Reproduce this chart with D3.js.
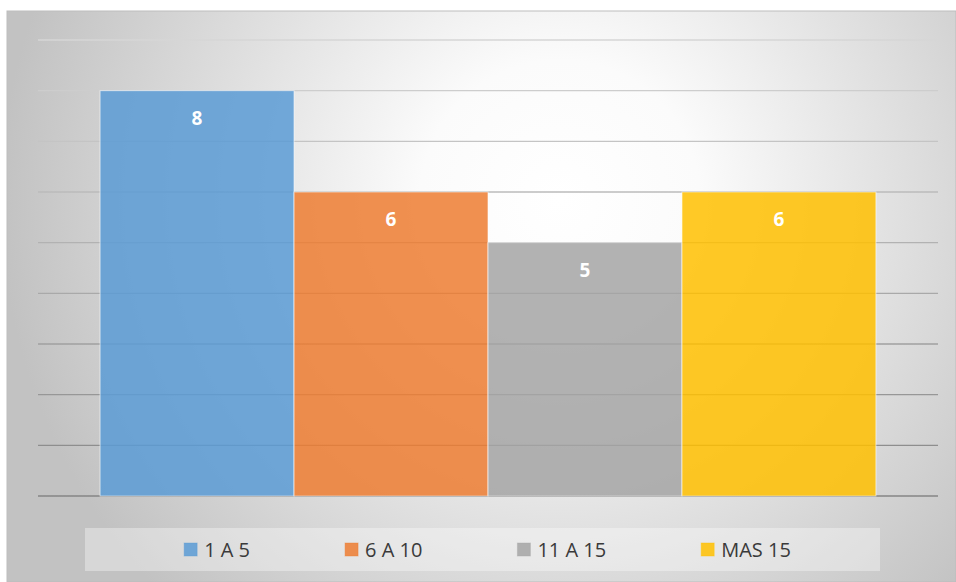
<!DOCTYPE html>
<html lang="es">
<head>
<meta charset="UTF-8" />
<title>Bar chart</title>
<style>
  body { margin: 0; background: #fff; }
  svg { display: block; }
</style>
</head>
<body>
<div id="chart"></div>
<script src="https://d3js.org/d3.v7.min.js"></script>
<script>
const width = 956;
const height = 582;

// data
const categories = ["1 A 5", "6 A 10", "11 A 15", "MAS 15"];
const values = [8, 6, 5, 6];
const colors = ["#5B9BD5", "#ED7D31", "#A5A5A5", "#FFC000"];
const yTicks = [0, 1, 2, 3, 4, 5, 6, 7, 8, 9];

const plot = { left: 38, right: 938, top: 40, bottom: 496 };

const svg = d3.select("#chart").append("svg")
  .attr("width", width)
  .attr("height", height);

const defs = svg.append("defs");
const bg = defs.append("radialGradient")
  .attr("id", "bg")
  .attr("gradientUnits", "userSpaceOnUse")
  .attr("cx", 560).attr("cy", 200).attr("r", 560);
bg.append("stop").attr("offset", "0%").attr("stop-color", "#ffffff");
bg.append("stop").attr("offset", "25%").attr("stop-color", "#fbfbfb");
bg.append("stop").attr("offset", "100%").attr("stop-color", "#c2c2c2");

const gridGrad = defs.append("linearGradient")
  .attr("id", "grid")
  .attr("gradientUnits", "userSpaceOnUse")
  .attr("x1", 0).attr("y1", plot.top).attr("x2", 0).attr("y2", plot.bottom);
gridGrad.append("stop").attr("offset", "0%").attr("stop-color", "#d6d6d6");
gridGrad.append("stop").attr("offset", "100%").attr("stop-color", "#858585");

// chart area
svg.append("rect")
  .attr("x", 7).attr("y", 11)
  .attr("width", width - 7).attr("height", height - 11)
  .attr("fill", "url(#bg)")
  .attr("stroke", "#bdbdbd")
  .attr("stroke-width", 1);

const y = d3.scaleLinear()
  .domain([0, 9])
  .range([plot.bottom, plot.top]);

const x0 = d3.scaleBand()
  .domain(["all"])
  .range([plot.left, plot.right])
  .paddingInner(0)
  .paddingOuter(0.08);

const x1 = d3.scaleBand()
  .domain(categories)
  .range([0, x0.bandwidth()])
  .padding(0);

// gridlines
svg.append("g")
  .selectAll("line")
  .data(yTicks)
  .join("line")
  .attr("x1", plot.left)
  .attr("x2", plot.right)
  .attr("y1", d => y(d))
  .attr("y2", d => y(d))
  .attr("stroke", "url(#grid)")
  .attr("stroke-width", 1.3);

// bars
const bars = svg.append("g")
  .attr("transform", `translate(${x0("all")},0)`);

bars.selectAll("rect")
  .data(values)
  .join("rect")
  .attr("x", (d, i) => x1(categories[i]))
  .attr("y", d => y(d))
  .attr("width", x1.bandwidth())
  .attr("height", d => y(0) - y(d))
  .attr("fill", (d, i) => colors[i])
  .attr("fill-opacity", 0.85)
  .attr("stroke", "#ffffff")
  .attr("stroke-opacity", 0.6)
  .attr("stroke-width", 1);

bars.selectAll("text")
  .data(values)
  .join("text")
  .attr("x", (d, i) => x1(categories[i]) + x1.bandwidth() / 2)
  .attr("y", d => y(d) + 34)
  .attr("text-anchor", "middle")
  .attr("font-family", "'Open Sans', sans-serif")
  .attr("font-weight", 700)
  .attr("font-size", 19)
  .attr("fill", "#ffffff")
  .text(d => d);

// legend
const legendBox = { x: 85, y: 528, w: 795, h: 43 };
svg.append("rect")
  .attr("x", legendBox.x).attr("y", legendBox.y)
  .attr("width", legendBox.w).attr("height", legendBox.h)
  .attr("fill", "#ffffff")
  .attr("fill-opacity", 0.35);

const legend = svg.append("g");
const items = legend.selectAll("g")
  .data(categories)
  .join("g");

items.append("rect")
  .attr("width", 13).attr("height", 13)
  .attr("y", legendBox.y + 15)
  .attr("fill", (d, i) => colors[i])
  .attr("fill-opacity", 0.85)
  .attr("stroke", (d, i) => colors[i])
  .attr("stroke-opacity", 0.4);

items.append("text")
  .attr("x", 20)
  .attr("y", legendBox.y + 28.5)
  .attr("font-family", "'Open Sans', sans-serif")
  .attr("font-size", 20)
  .attr("fill", "#3a3a3a")
  .text(d => d);

const gap = 95;
const widths = [];
items.each(function () {
  widths.push(20 + d3.select(this).select("text").node().getComputedTextLength());
});
const total = d3.sum(widths) + gap * (widths.length - 1);
let cursor = legendBox.x + legendBox.w / 2 - total / 2 + 5;
items.attr("transform", (d, i) => {
  const t = `translate(${cursor},0)`;
  cursor += widths[i] + gap;
  return t;
});
</script>
</body>
</html>
